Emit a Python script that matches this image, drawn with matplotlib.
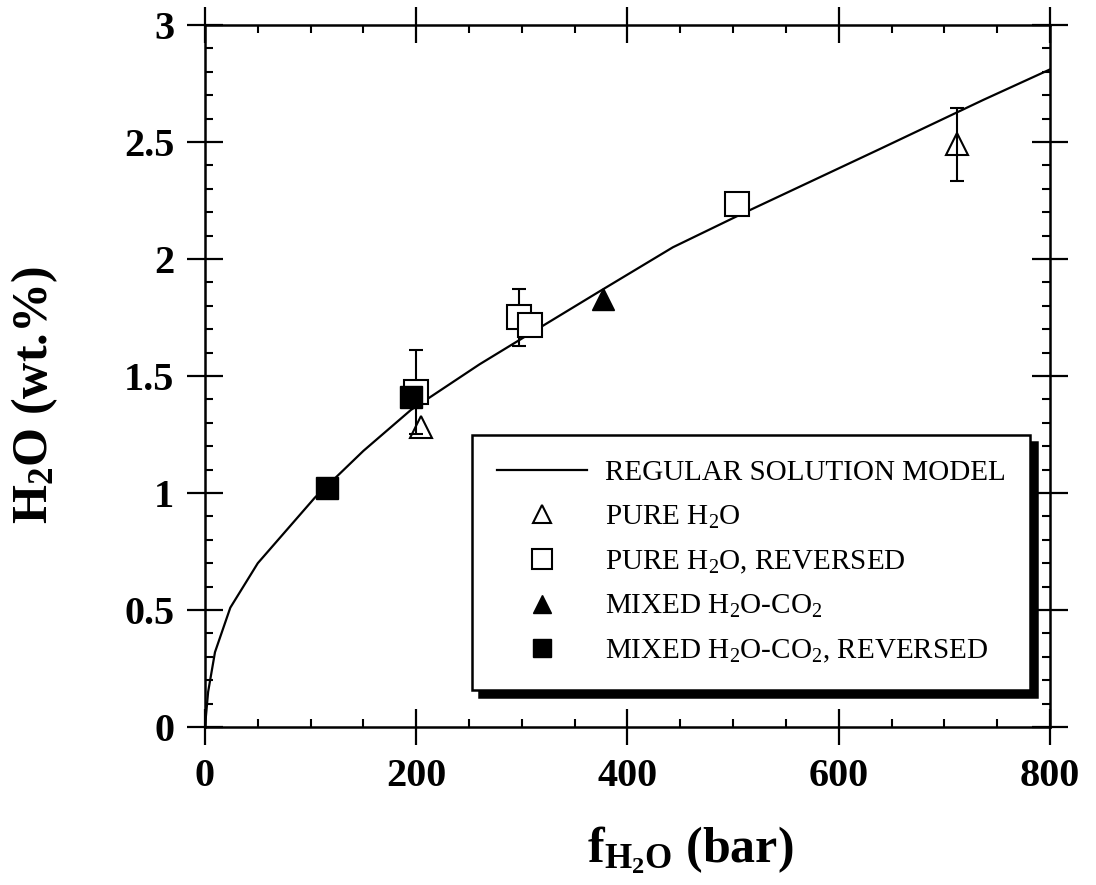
import numpy as np
import matplotlib.pyplot as plt
from matplotlib.ticker import MultipleLocator

plt.rcParams['font.family'] = ['Liberation Serif', 'DejaVu Serif']
plt.rcParams['mathtext.fontset'] = 'custom'
plt.rcParams['mathtext.rm'] = 'Liberation Serif'
plt.rcParams['mathtext.it'] = 'Liberation Serif:italic'
plt.rcParams['mathtext.bf'] = 'Liberation Serif:bold'

# regular solution model
model_f = [0, 3, 9.5, 24, 50, 104, 150, 195, 260, 300, 373, 443, 507, 639, 737, 800]
model_h2o = [0, 0.15, 0.32, 0.51, 0.70, 0.98, 1.18, 1.355, 1.55, 1.66, 1.86, 2.05, 2.19, 2.47, 2.68, 2.81]

# pure H2O
pure_f = [205, 712]
pure_h2o = [1.28, 2.49]
pure_err = [0.0, 0.155]

# pure H2O, reversed
pure_rev_f = [200, 297, 308, 504]
pure_rev_h2o = [1.43, 1.75, 1.72, 2.235]
pure_rev_err = [0.18, 0.12, 0.0, 0.0]

# mixed H2O-CO2
mixed_f = [377]
mixed_h2o = [1.83]

# mixed H2O-CO2, reversed
mixed_rev_f = [116, 195]
mixed_rev_h2o = [1.02, 1.41]

fig = plt.figure(figsize=(10.96, 8.85), dpi=100)
ax = fig.add_axes([0.187, 0.1785, 0.771, 0.7933])

ax.plot(model_f, model_h2o, color='black', lw=1.6, label='REGULAR SOLUTION MODEL', zorder=2)

# error bars (only where the figure shows one)
for f, h, e in [(pure_f, pure_h2o, pure_err), (pure_rev_f, pure_rev_h2o, pure_rev_err)]:
    f, h, e = np.array(f), np.array(h), np.array(e)
    m = e > 0
    ax.errorbar(f[m], h[m], yerr=e[m], fmt='none', ecolor='black', elinewidth=1.5,
                capsize=5, capthick=1.5, zorder=3)

ax.plot(pure_rev_f, pure_rev_h2o, ls='none', marker='s', ms=17, mfc='white', mec='black',
        mew=1.5, label='PURE H$_2$O, REVERSED', zorder=4)
ax.plot(pure_f, pure_h2o, ls='none', marker='^', ms=16, mfc='none', mec='black',
        mew=1.5, label='PURE H$_2$O', zorder=5)
ax.plot(mixed_f, mixed_h2o, ls='none', marker='^', ms=16, mfc='black', mec='black',
        label='MIXED H$_2$O-CO$_2$', zorder=5)
ax.plot(mixed_rev_f, mixed_rev_h2o, ls='none', marker='s', ms=16, mfc='black', mec='black',
        label='MIXED H$_2$O-CO$_2$, REVERSED', zorder=6)

ax.set_xlim(0, 800)
ax.set_ylim(0, 3)
ax.xaxis.set_major_locator(MultipleLocator(200))
ax.xaxis.set_minor_locator(MultipleLocator(50))
ax.yaxis.set_minor_locator(MultipleLocator(0.1))
ax.set_yticks([0, 0.5, 1, 1.5, 2, 2.5, 3])
ax.set_yticklabels(['0', '0.5', '1', '1.5', '2', '2.5', '3'])

ax.tick_params(which='major', direction='inout', length=26, width=1.6, top=True, right=True,
               labelsize=29, pad=9)
ax.tick_params(which='minor', direction='in', length=6, width=1.5, top=True, right=True)
for lab in ax.get_xticklabels() + ax.get_yticklabels():
    lab.set_fontweight('bold')
for sp in ax.spines.values():
    sp.set_linewidth(1.8)

ax.set_xlabel(r'f$_{\mathbf{H_2O}}$ (bar)', fontsize=36, fontweight='bold')
ax.set_ylabel(r'H$_\mathbf{2}$O (wt.%)', fontsize=36, fontweight='bold')
ax.xaxis.set_label_coords(0.574, -0.138)
ax.yaxis.set_label_coords(-0.172, 0.473)

h, l = ax.get_legend_handles_labels()
order = [0, 2, 1, 3, 4]
leg = ax.legend([h[i] for i in order], [l[i] for i in order], loc='upper left',
                bbox_to_anchor=(0.316, 0.416), borderaxespad=0, fontsize=21,
                handlelength=3.1, handletextpad=0.6, labelspacing=0.6, borderpad=0.85,
                markerscale=0.85, fancybox=False, edgecolor='black', framealpha=1,
                shadow={'ox': 5, 'oy': -5, 'facecolor': 'black', 'edgecolor': 'black', 'alpha': 1})
leg.get_frame().set_linewidth(1.8)

fig.savefig('out.png', dpi=100, facecolor='white')
